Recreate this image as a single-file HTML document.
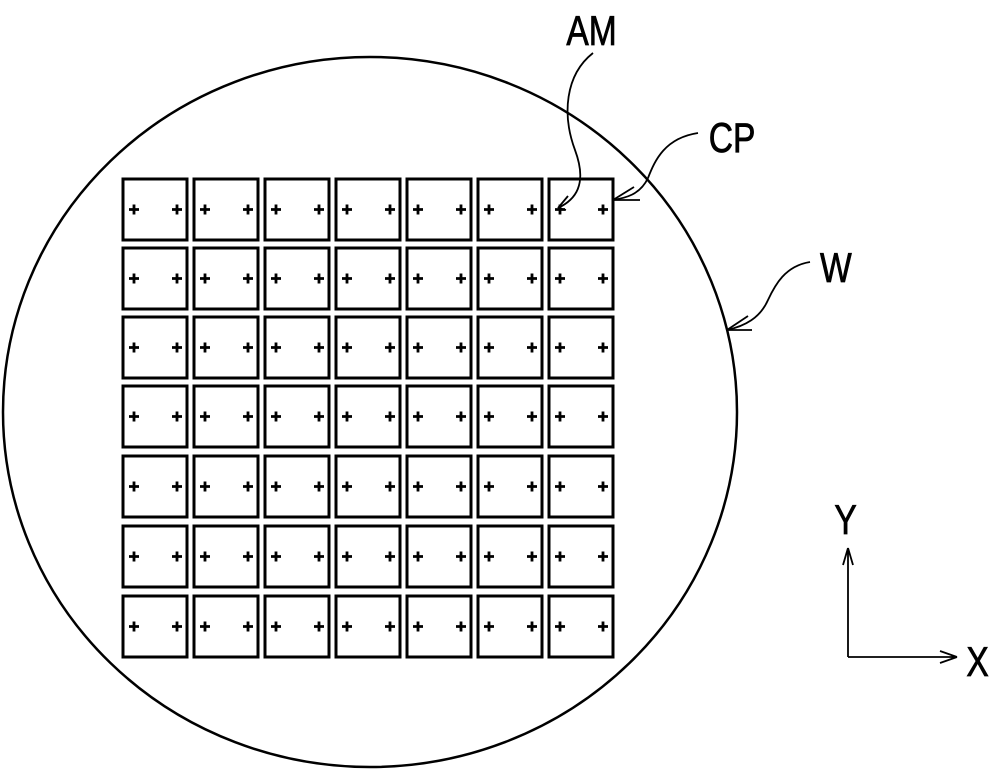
<!DOCTYPE html>
<html><head><style>body{margin:0;background:#fff}svg{display:block}</style></head><body>
<svg width="1000" height="770" xmlns="http://www.w3.org/2000/svg" xmlns:xlink="http://www.w3.org/1999/xlink">
<defs>
<g id="cell">
<rect x="0" y="0" width="64" height="61" fill="none" stroke="#000" stroke-width="3"/>
<path d="M6,30.5h10M11,25.5v10M49,30.5h10M54,25.5v10" fill="none" stroke="#000" stroke-width="2.8"/>
</g>
<g id="row">
<use xlink:href="#cell" x="123"/><use xlink:href="#cell" x="194"/><use xlink:href="#cell" x="265"/><use xlink:href="#cell" x="336"/><use xlink:href="#cell" x="407"/><use xlink:href="#cell" x="478"/><use xlink:href="#cell" x="549"/>
</g>
</defs>
<ellipse cx="370" cy="412" rx="367" ry="355" fill="none" stroke="#000" stroke-width="2.5"/>
<use xlink:href="#row" y="179"/>
<use xlink:href="#row" y="248"/>
<use xlink:href="#row" y="317"/>
<use xlink:href="#row" y="386"/>
<use xlink:href="#row" y="456"/>
<use xlink:href="#row" y="526"/>
<use xlink:href="#row" y="596"/>
<g fill="none" stroke="#000" stroke-width="1.8">
<path d="M593,53 C565,75 562,115 575,150 C588,185 575,200 558,208"/>
<path d="M558,208 L568,196 M558,208 L566,210"/>
<path d="M698,133 C665,138 655,160 648,178 C640,195 625,198 613,200"/>
<path d="M613,200 L640,200 M613,200 L634,187"/>
<path d="M810,262 C785,266 775,285 768,300 C760,318 745,326 727,330"/>
<path d="M727,330 L752,330 M727,330 L748,316"/>
<path d="M848,657 L848,548 M848,548 L843,565 M848,548 L853,565"/>
<path d="M848,657 L957,657 M957,657 L940,651 M957,657 L940,663"/>
</g>
<g font-family="Liberation Sans, sans-serif" font-size="42" fill="#000" stroke="#000" stroke-width="0.8" transform="scale(0.8,1)">
<text x="708" y="45">AM</text>
<text x="886" y="152">CP</text>
<text x="1025" y="282">W</text>
<text x="1043" y="534">Y</text>
<text x="1208" y="676">X</text>
</g>
</svg>
</body></html>
